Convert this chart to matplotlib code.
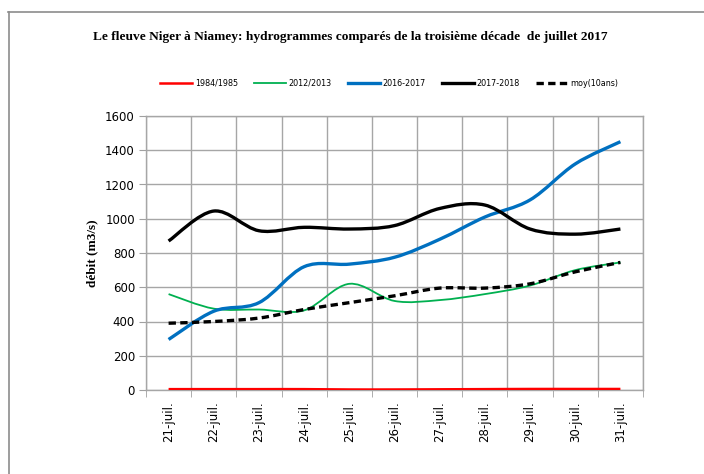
import matplotlib
matplotlib.use('Agg')
import matplotlib.pyplot as plt
from matplotlib.path import Path
from matplotlib.patches import PathPatch
from matplotlib.lines import Line2D
import numpy as np

days = ['21-juil.', '22-juil.', '23-juil.', '24-juil.', '25-juil.', '26-juil.',
        '27-juil.', '28-juil.', '29-juil.', '30-juil.', '31-juil.']

q_1984 = [5, 5, 5, 5, 3, 3, 4, 5, 6, 6, 6]
q_2012 = [560, 475, 470, 465, 620, 520, 525, 560, 610, 700, 745]
q_2016 = [295, 460, 510, 720, 735, 775, 880, 1010, 1110, 1320, 1450]
q_2017 = [870, 1045, 930, 950, 940, 960, 1060, 1080, 940, 910, 940]
q_moy = [390, 400, 420, 470, 510, 550, 595, 595, 620, 690, 745]

series = [
    ('1984/1985', q_1984, '#FF0000', 1.8, '-'),
    ('2012/2013', q_2012, '#00B050', 1.3, '-'),
    ('2016-2017', q_2016, '#0070C0', 2.4, '-'),
    ('2017-2018', q_2017, '#000000', 2.4, '-'),
    ('moy(10ans)', q_moy, '#000000', 2.4, (0, (2.2, 1.3))),
]

narrow = ['Liberation Sans Narrow', 'DejaVu Sans']
serif = ['Liberation Serif', 'DejaVu Serif']


def smooth_path(x, y):
    # Excel-like smoothed line: cubic bezier segments through the points
    p = np.column_stack([x, y]).astype(float)
    n = len(p)
    verts = [p[0]]
    codes = [Path.MOVETO]
    for i in range(n - 1):
        p0 = p[i - 1] if i > 0 else p[i]
        p3 = p[i + 2] if i + 2 < n else p[i + 1]
        c1 = p[i] + (p[i + 1] - p0) / 6.0
        c2 = p[i + 1] - (p3 - p[i]) / 6.0
        verts += [c1, c2, p[i + 1]]
        codes += [Path.CURVE4] * 3
    return Path(verts, codes)


fig = plt.figure(figsize=(7.04, 4.74), dpi=100)
ax = fig.add_axes([146 / 704, 1 - 390 / 474, 497 / 704, 274 / 474])

x = np.arange(len(days))
for name, vals, col, lw, ls in series:
    patch = PathPatch(smooth_path(x, vals), facecolor='none', edgecolor=col,
                      lw=lw, linestyle=ls, capstyle='butt', zorder=3)
    ax.add_patch(patch)

ax.set_xlim(-0.5, len(days) - 0.5)
ax.set_ylim(0, 1600)
ax.set_yticks(np.arange(0, 1601, 200))
ax.set_xticks(x)
ax.set_xticklabels(days, rotation=90, family=narrow, fontsize=8.5)
ax.set_xticks(np.arange(-0.5, len(days), 1), minor=True)
ax.tick_params(axis='x', which='major', length=0, pad=8)
ax.tick_params(axis='x', which='minor', length=5, color='#a0a0a0')
ax.tick_params(axis='y', length=5, color='#a0a0a0', pad=3)
for lab in ax.get_yticklabels():
    lab.set_family(narrow)
    lab.set_fontsize(8.5)
ax.grid(True, axis='y', color='#a6a6a6', lw=1)
ax.grid(True, axis='x', which='minor', color='#a6a6a6', lw=1)
ax.set_axisbelow(True)
for s in ax.spines.values():
    s.set_color('#a6a6a6')
    s.set_linewidth(1)

ax.set_ylabel('débit (m3/s)', family=serif, fontweight='bold', fontsize=9.5, labelpad=5)

fig.text(0.497, 1 - 37 / 474,
         'Le fleuve Niger à Niamey: hydrogrammes comparés de la troisième décade  de juillet 2017',
         ha='center', va='center', family=serif, fontweight='bold', fontsize=9.6)

handles = [Line2D([], [], color=c, lw=lw, linestyle=ls) for _, _, c, lw, ls in series]
fig.legend(handles, [s[0] for s in series], loc='center', bbox_to_anchor=(0.553, 1 - 83 / 474),
           ncol=5, frameon=False, prop={'family': narrow, 'size': 5.8},
           handlelength=4.0, handletextpad=0.3, columnspacing=2.0)

# outer chart frame (top and left edges visible)
fig.add_artist(Line2D([8 / 704, 1], [1 - 12 / 474] * 2, color='#8c8c8c', lw=1.2))
fig.add_artist(Line2D([8.5 / 704] * 2, [0, 1 - 12 / 474], color='#8c8c8c', lw=1.2))

fig.savefig('out.png', dpi=100, facecolor='white')
